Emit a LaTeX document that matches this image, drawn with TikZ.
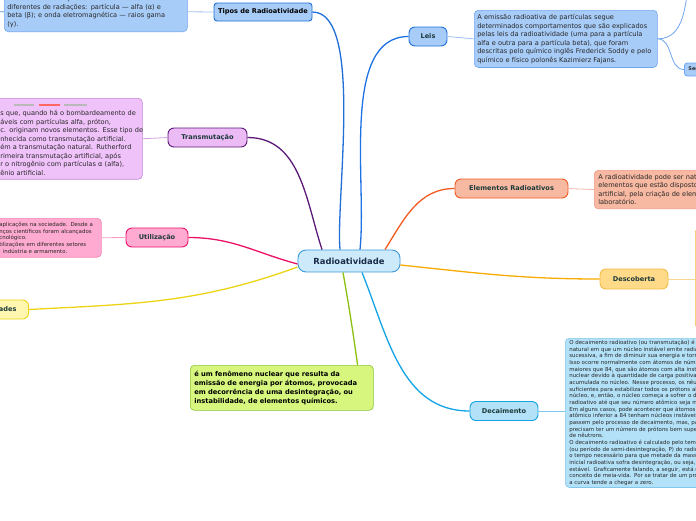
\documentclass[tikz,border=0pt]{standalone}
\usepackage{fontspec}
\setmainfont{DejaVu Sans}
\usepackage{tikz}
\usetikzlibrary{positioning}
\definecolor{headtxt}{HTML}{1C3A3A}
\definecolor{roottxt}{HTML}{1A2A4A}
\definecolor{bodytxt}{HTML}{262626}
\definecolor{rootfill}{HTML}{CDEAFA}
\definecolor{rootline}{HTML}{3A9AD8}
\definecolor{tiposc}{HTML}{1F6FD6}
\definecolor{leisc}{HTML}{1E72E2}
\definecolor{bluefill}{HTML}{A8CCF8}
\definecolor{blueline}{HTML}{70A6EE}
\definecolor{transc}{HTML}{5C1A78}
\definecolor{transfill}{HTML}{ECBAF5}
\definecolor{transnote}{HTML}{F0C2FA}
\definecolor{transline}{HTML}{C583D8}
\definecolor{utilc}{HTML}{EC1068}
\definecolor{utilfill}{HTML}{FFAAD0}
\definecolor{utilline}{HTML}{F585B5}
\definecolor{propc}{HTML}{ECD414}
\definecolor{propfill}{HTML}{FFF6B0}
\definecolor{elemc}{HTML}{F25A22}
\definecolor{elemfill}{HTML}{F8B9A2}
\definecolor{elemline}{HTML}{F09A85}
\definecolor{descc}{HTML}{F8AA00}
\definecolor{descfill}{HTML}{FFDA88}
\definecolor{descline}{HTML}{F5BC45}
\definecolor{decaic}{HTML}{12A4E4}
\definecolor{decaifill}{HTML}{B3E1F8}
\definecolor{decailine}{HTML}{82C8EE}
\definecolor{defc}{HTML}{8CC010}
\definecolor{deffill}{HTML}{D6F67E}
\definecolor{defline}{HTML}{8CC43A}

\begin{document}
\begin{tikzpicture}[x=1pt,y=-1pt,
  topic/.style={draw,rounded corners=6pt,line width=0.9pt,minimum height=19pt,inner xsep=4pt,
    font=\fontsize{6.6}{7.5}\selectfont\bfseries,text=headtxt},
  note/.style={draw,rounded corners=4pt,line width=0.6pt,inner sep=4pt,align=left,text=bodytxt,
    font=\fontsize{6.6}{8.5}\selectfont},
  smallnote/.style={note,font=\fontsize{5.45}{6.65}\selectfont},
  twig/.style={line width=0.8pt},
  branch/.style={line width=1.3pt}]
  \useasboundingbox (0,0) rectangle (696,520);
  \clip (0,0) rectangle (696,520);

  % centre
  \node[topic,fill=rootfill,draw=rootline,minimum width=102pt,minimum height=22pt,rounded corners=8pt,
    font=\fontsize{8.4}{9}\selectfont\bfseries,text=roottxt] (root) at (349,261) {Radioatividade};

  % main topics
  \node[topic,fill=bluefill,draw=tiposc,minimum width=98pt,minimum height=18pt,rounded corners=3pt,text=black] (tipos) at (263,12) {Tipos de Radioatividade};
  \node[topic,fill=bluefill,draw=leisc,minimum width=38pt] (leis) at (428,36.5) {Leis};
  \node[topic,fill=transfill,draw=transc,minimum width=79pt] (transm) at (207.5,137.5) {Transmutação};
  \node[topic,fill=utilfill,draw=utilc,minimum width=62pt] (util) at (157,237.5) {Utilização};
  \node[topic,fill=propfill,draw=propc,inner xsep=12pt,anchor=east] (prop) at (29,309.5) {Propriedades};
  \node[topic,fill=elemfill,draw=elemc,minimum width=113pt] (elem) at (511.5,188.5) {Elementos Radioativos};
  \node[topic,fill=descfill,draw=descline,minimum width=68pt,minimum height=20pt] (desc) at (634,279) {Descoberta};
  \node[topic,fill=decaifill,draw=decaic,minimum width=68pt] (decai) at (504,411) {Decaimento};

  % notes
  \node[note,fill=bluefill,draw=blueline,text width=177pt,inner xsep=3pt,anchor=south west] (tiposbox) at (4,32)
    {A radioatividade apresenta-se com duas formas\\
     diferentes de radiações: partícula — alfa (α) e\\
     beta (β); e onda eletromagnética — raios gama\\
     (γ).};
  \node[note,fill=bluefill,draw=blueline,text width=177pt,inner xsep=3pt,minimum height=53pt,anchor=north west] (leisbox) at (474,10)
    {A emissão radioativa de partículas segue\\
     determinados comportamentos que são explicados\\
     pelas leis da radioatividade (uma para a partícula\\
     alfa e outra para a partícula beta), que foram\\
     descritas pelo químico inglês Frederick Soddy e pelo\\
     químico e físico polonês Kazimierz Fajans.};
  \node[topic,fill=bluefill,draw=blueline,minimum height=13pt,rounded corners=3pt,anchor=west,
    font=\fontsize{5}{6}\selectfont\bfseries,text=bodytxt] (seg) at (684,69.5) {Segunda Lei};
  \coordinate (prim) at (690,-25);
  \coordinate (tiposin) at (-20,12);

  \node[note,fill=transnote,draw=transline,text width=138pt,minimum height=78pt,anchor=north west] (transbox) at (-4,98)
    {\vphantom{X}\\
     \mbox{s que, quando há o bombardeamento de}\\
     áveis com partículas alfa, próton,\\
     \mbox{c. originam novos elementos. Esse tipo de}\\
     nhecida como transmutação artificial.\\
     \mbox{ém a transmutação natural. Rutherford}\\
     rimeira transmutação artificial, após\\
     \mbox{r o nitrogênio com partículas α (alfa),}\\
     ênio artificial.};
  \draw[gray!55,line width=1.6pt] (14,105) -- (34,105);
  \draw[red!60,line width=1.2pt] (39,105) -- (60,105);
  \draw[gray!55,line width=1.6pt] (64,105) -- (87,105);

  \node[smallnote,fill=utilfill,draw=utilline,text width=98pt,minimum height=38pt,anchor=north west] (utilbox) at (-5,218)
    {\mbox{aplicações na sociedade. Desde a}\\
     \mbox{nços científicos foram alcançados}\\
     cnológico.\\
     \mbox{tilizações em diferentes setores}\\
     \ \ indústria e armamento.};

  \node[note,fill=elemfill,draw=elemline,text width=200pt,minimum height=38pt,anchor=north west] (elembox) at (594,170)
    {A radioatividade pode ser natural, quando\\
     elementos que estão dispostos na natureza, ou\\
     artificial, pela criação de elementos em\\
     laboratório.};

  \node[note,fill=propfill!60,draw=descline,minimum width=100pt,minimum height=100pt,anchor=north west] (descbox) at (695,228) {};

  \node[smallnote,fill=decaifill,draw=decailine,text width=240pt,inner ysep=2pt,minimum height=146pt,anchor=north west] (decaibox) at (565,338)
    {O decaimento radioativo (ou transmutação) é um processo\\
     natural em que um núcleo instável emite radiações de forma\\
     sucessiva, a fim de diminuir sua energia e tornar-se estável.\\
     Isso ocorre normalmente com átomos de número atômico\\
     maiores que 84, que são átomos com alta instabilidade\\
     nuclear devido à quantidade de carga positiva\\
     acumulada no núcleo. Nesse processo, os nêutrons não são\\
     suficientes para estabilizar todos os prótons ali presentes\\
     núcleo, e, então, o núcleo começa a sofrer o decaimento\\
     radioativo até que seu número atômico seja menor que 84.\\
     Em alguns casos, pode acontecer que átomos com número\\
     atômico inferior a 84 tenham núcleos instáveis e também\\
     passem pelo processo de decaimento, mas, para isso,\\
     precisam ter um número de prótons bem superior ao\\
     de nêutrons.\\
     O decaimento radioativo é calculado pelo tempo de meia-vida\\
     (ou período de semi-desintegração, P) do radioisótopo, que é\\
     o tempo necessário para que metade da massa da amostra\\
     inicial radioativa sofra desintegração, ou seja, torne-se\\
     estável. Graficamente falando, a seguir, está representado o\\
     conceito de meia-vida. Por se tratar de um processo exponencial,\\
     a curva tende a chegar a zero.};

  \node[note,fill=deffill,draw=defline,text width=175pt,minimum height=45pt,anchor=north west,
    font=\fontsize{6.7}{9}\selectfont\bfseries,text=black] (defbox) at (190,365)
    {\mbox{é um fenômeno nuclear que resulta da}\\
     \mbox{emissão de energia por átomos, provocada}\\
     \mbox{em decorrência de uma desintegração, ou}\\
     \mbox{instabilidade, de elementos químicos.}};

  % branches from the centre
  \draw[branch,tiposc] (tipos.east) to[out=0,in=95,looseness=0.55] ([xshift=-9pt]root.north);
  \draw[branch,leisc] ([xshift=11pt]root.north) to[out=84,in=180,looseness=0.8] (leis.west);
  \draw[branch,transc] (transm.east) to[out=0,in=108] ([xshift=-27pt]root.north);
  \draw[branch,utilc] (util.east) to[out=0,in=165] ([yshift=-3pt]root.west);
  \draw[branch,propc] (prop.east) to[out=3,in=200] ([yshift=-6pt]root.west);
  \draw[branch,elemc] ([xshift=36pt]root.north) to[out=58,in=180] (elem.west);
  \draw[branch,descc] ([yshift=-4pt]root.east) to[out=-6,in=180] (desc.west);
  \draw[branch,decaic] ([xshift=13pt]root.south) to[out=-68,in=180] (decai.west);
  \draw[branch,defc] ([xshift=-6pt]root.south) to[out=-80,in=98] ([xshift=-16pt]defbox.north east);

  % twigs to the notes
  \draw[twig,blueline!70] (tiposbox.east) -- (tipos.west);
  \draw[twig,tiposc!80] (tiposin) -- (tiposbox.west);
  \draw[twig,blueline!70] (leis.east) -- (leisbox.west);
  \draw[twig,blueline] (leisbox.east) to[out=0,in=180] (seg.west);
  \draw[twig,blueline] (leisbox.east) to[out=0,in=-100] (prim);
  \draw[twig,transline!80] (transbox.east) -- (transm.west);
  \draw[twig,utilline!80] (utilbox.east) -- (util.west);
  \draw[twig,elemline!70] (elem.east) -- (elembox.west);
  \draw[twig,descline!60] (desc.east) -- (descbox.west |- desc.east);
  \draw[twig,decailine] (decai.east) -- (decaibox.west |- decai.east);
\end{tikzpicture}
\end{document}
